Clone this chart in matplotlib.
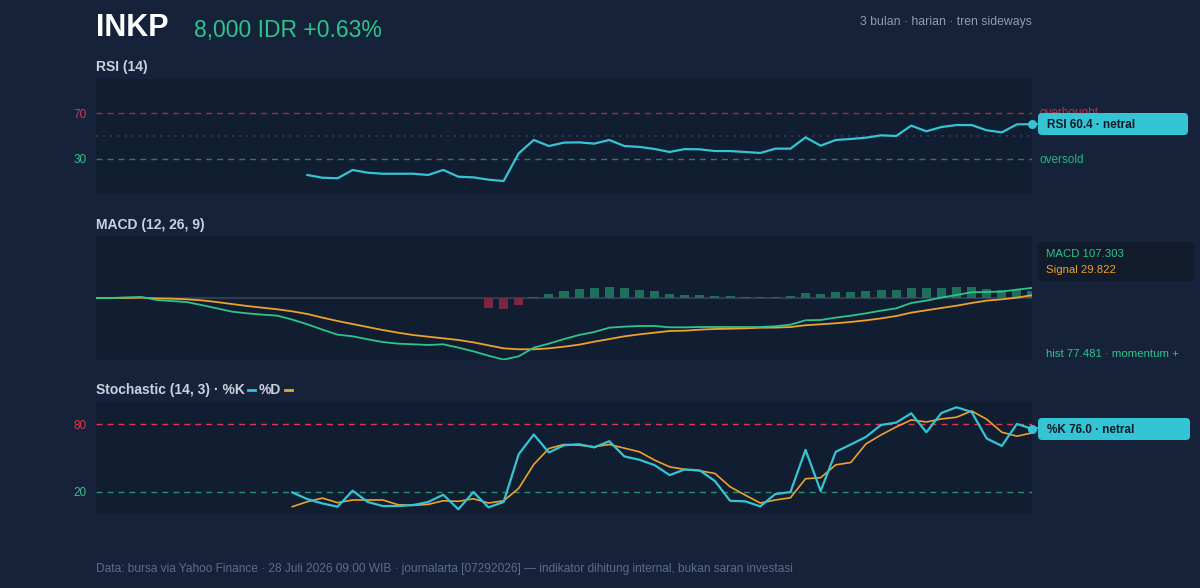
import numpy as np
import matplotlib
matplotlib.use('Agg')
from matplotlib import pyplot as plt
from matplotlib.patches import FancyBboxPatch
from matplotlib.lines import Line2D

# ---- data (63 daily bars) ----
N_BARS = 63

rsi_start = 14
rsi_vals = [15.8, 13.4, 12.9, 20.2, 17.8, 16.9, 16.9, 16.9, 15.8, 20.2,
            14.3, 13.7, 11.7, 10.5, 34.8, 46.5, 41.2, 44.2, 44.4, 43.3,
            46.5, 41.2, 40.4, 38.6, 36.0, 38.5, 38.3, 36.8, 36.8, 36.0,
            35.1, 38.9, 38.9, 48.8, 41.5, 46.5, 47.4, 48.5, 50.6, 50.0,
            59.1, 54.1, 57.9, 59.6, 59.6, 55.0, 53.2, 60.2, 60.4]

macd_vals = [0, 0, 7, 11, -21, -32, -43, -75, -110, -145,
             -163, -177, -188, -230, -280, -337, -390, -408, -440, -469,
             -486, -493, -500, -493, -528, -568, -614, -656, -621, -528,
             -486, -437, -394, -362, -316, -305, -298, -298, -312, -312,
             -309, -309, -309, -309, -309, -301, -284, -237, -234, -209,
             -188, -163, -135, -110, -53, -28, 4, 32, 61, 64,
             68, 89, 107.303]
signal_vals = [0, 0, 0, 4, -4, -7, -14, -25, -43, -64,
               -85, -103, -120, -142, -170, -209, -245, -277, -309, -341,
               -369, -394, -412, -429, -447, -472, -504, -536, -546, -546,
               -536, -518, -497, -465, -437, -408, -387, -369, -351, -348,
               -337, -330, -327, -323, -316, -315, -309, -290, -280, -269,
               -255, -238, -217, -192, -156, -131, -106, -82, -53, -28,
               -14, 4, 29.822]
hist_start = 26
hist_vals = [-110, -120, -75, 10, 43, 75, 99, 103, 121, 103,
             89, 71, 39, 36, 28, 21, 18, 14, 7, 14,
             25, 53, 46, 60, 67, 75, 82, 82, 103, 103,
             110, 114, 114, 92, 82, 85, 77.481]

stoch_start = 13
stoch_k = [19.3, 13.3, 9.4, 6.5, 20.8, 10.7, 7.1, 7.1, 8.0, 10.7,
           17.2, 4.2, 19.6, 5.9, 10.7, 53.4, 71.0, 54.9, 61.4, 62.3,
           59.5, 65.0, 51.4, 48.4, 43.6, 34.7, 39.8, 38.9, 29.4, 11.8,
           11.3, 6.8, 17.8, 19.6, 57.3, 20.5, 55.5, 62.1, 68.8, 79.5,
           81.6, 89.9, 73.0, 90.2, 95.3, 91.1, 67.4, 60.8, 80.4, 76.0]
stoch_d = [6.5, 11.0, 14.2, 10.1, 12.5, 12.5, 12.5, 8.3, 7.7, 8.6,
           11.8, 11.3, 13.6, 9.8, 11.8, 22.9, 44.3, 58.5, 62.1, 61.4,
           60.0, 62.1, 58.8, 55.5, 48.1, 42.1, 39.8, 38.6, 36.2, 24.3,
           16.9, 9.8, 12.5, 14.5, 31.5, 32.4, 43.9, 46.0, 62.6, 70.6,
           77.7, 84.0, 82.2, 84.9, 86.4, 92.0, 84.6, 73.0, 69.5, 72.4]

# ---- style ----
W, H = 1200, 588
BG = '#15223a'
PANEL = '#111d30'
CYAN = '#35c4d4'
GREEN = '#2ec48c'
ORANGE = '#eea22e'
RED = '#e0364f'
TXT = '#c9d1dd'
MUTED = '#8f9bb0'
FOOT = '#5d6d86'

plt.rcParams['font.family'] = ['Liberation Sans', 'DejaVu Sans']


def fpos(x, y):
    # pixel coords (top-left origin) -> figure fraction
    return x / W, 1 - y / H


def add_axes(top, bottom):
    ax = fig.add_axes([96 / W, 1 - bottom / H, (1032 - 96) / W, (bottom - top) / H])
    ax.set_facecolor(PANEL)
    for s in ax.spines.values():
        s.set_visible(False)
    ax.set_xlim(0, N_BARS - 1)
    ax.set_xticks([])
    ax.tick_params(axis='y', length=0, pad=7, labelsize=8.5)
    return ax


def pill(x0, y0, x1, y1, fc, ec='none', r=4):
    p = FancyBboxPatch((x0 / 100, (H - y1) / 100), (x1 - x0) / 100, (y1 - y0) / 100,
                       boxstyle='round,pad=0,rounding_size=%f' % (r / 100),
                       transform=fig.dpi_scale_trans, fc=fc, ec=ec, zorder=5)
    fig.patches.append(p)


def pad_series(vals, start):
    arr = np.full(N_BARS, np.nan)
    arr[start:start + len(vals)] = vals
    return arr


fig = plt.figure(figsize=(W / 100, H / 100), dpi=100, facecolor=BG)
x = np.arange(N_BARS)

# header
fig.text(*fpos(96, 28), 'INKP', color='white', fontsize=22, fontweight='bold', va='center')
fig.text(*fpos(194, 30), '8,000 IDR +0.63%', color=GREEN, fontsize=16.5, va='center')
fig.text(*fpos(1032, 22), '3 bulan \u00b7 harian \u00b7 tren sideways', color=MUTED,
         fontsize=8.8, ha='right', va='center')

# ---- RSI ----
ax1 = add_axes(79, 193)
rsi = pad_series(rsi_vals, rsi_start)
ax1.set_ylim(0, 100)
ax1.axhline(70, color=RED, alpha=0.7, lw=1, dashes=(4.3, 3.6))
ax1.axhline(30, color=GREEN, alpha=0.6, lw=1, dashes=(4.3, 3.6))
ax1.axhline(50, color='#3a4658', lw=1.2, dashes=(1, 3.3))
ax1.plot(x, rsi, color=CYAN, lw=1.6)
ax1.plot(x[-1], rsi[-1], 'o', color=CYAN, ms=5.5, clip_on=False, zorder=6)
ax1.set_yticks([30, 70])
ax1.set_yticklabels(['30', '70'])
for lab, c in zip(ax1.get_yticklabels(), [GREEN, RED]):
    lab.set_color(c)
fig.text(*fpos(96, 67), 'RSI (14)', color=TXT, fontsize=10, fontweight='bold', va='center')
fig.text(*fpos(1040, 113), 'overbought', color=RED, fontsize=8.5, va='center', alpha=0.8)
fig.text(*fpos(1040, 160), 'oversold', color=GREEN, fontsize=8.5, va='center', alpha=0.9)
fig.lines.append(Line2D([1032 / W, 1038 / W], [1 - 124 / H] * 2, color=CYAN, lw=1.2,
                        transform=fig.transFigure))
pill(1038, 113, 1188, 135, CYAN)
fig.text(*fpos(1047, 125), 'RSI 60.4 \u00b7 netral', color='#0e1a2a', fontsize=8.5,
         fontweight='bold', va='center', zorder=6)

# ---- MACD ----
ax2 = add_axes(236, 360)
ax2.set_ylim(-660, 660)
ax2.set_yticks([])
hist = pad_series(hist_vals, hist_start)
bar_cols = ['#1f6e5a' if v >= 0 else '#7a2743' for v in np.nan_to_num(hist)]
ax2.bar(x, hist, width=0.6, color=bar_cols, zorder=2)
ax2.axhline(0, color='#2f3b4f', lw=1.5, zorder=1)
ax2.plot(x, signal_vals, color=ORANGE, lw=1.3, zorder=3)
ax2.plot(x, macd_vals, color=GREEN, lw=1.3, zorder=4)
fig.text(*fpos(96, 225), 'MACD (12, 26, 9)', color=TXT, fontsize=10, fontweight='bold', va='center')
pill(1038, 242, 1194, 281, '#111b2b')
fig.text(*fpos(1046, 254), 'MACD 107.303', color=GREEN, fontsize=8.2, va='center', zorder=6)
fig.text(*fpos(1046, 270), 'Signal 29.822', color=ORANGE, fontsize=8.2, va='center', zorder=6)
fig.text(*fpos(1046, 354), 'hist 77.481 \u00b7 momentum +', color=GREEN, fontsize=8.2, va='center')

# ---- Stochastic ----
ax3 = add_axes(402, 514)
ax3.set_ylim(0, 100)
ax3.axhline(80, color=RED, lw=1, dashes=(4.3, 3.6))
ax3.axhline(20, color=GREEN, alpha=0.7, lw=1, dashes=(4.3, 3.6))
k = pad_series(stoch_k, stoch_start)
d = pad_series(stoch_d, stoch_start)
ax3.plot(x, d, color=ORANGE, lw=1.2)
ax3.plot(x, k, color=CYAN, lw=1.6)
ax3.plot(x[-1], k[-1], 'o', color=CYAN, ms=5.5, clip_on=False, zorder=6)
ax3.set_yticks([20, 80])
ax3.set_yticklabels(['20', '80'])
for lab, c in zip(ax3.get_yticklabels(), [GREEN, RED]):
    lab.set_color(c)

# title with coloured legend dashes
renderer = fig.canvas.get_renderer()
t = fig.text(*fpos(96, 390), 'Stochastic (14, 3) \u00b7 %K', color=TXT, fontsize=10,
             fontweight='bold', va='center')
xe = t.get_window_extent(renderer).x1
fig.lines.append(Line2D([(xe + 3) / W, (xe + 10) / W], [1 - 390 / H] * 2, color=CYAN,
                        lw=2, transform=fig.transFigure))
t2 = fig.text((xe + 14) / W, 1 - 390 / H, '%D', color=TXT, fontsize=10,
              fontweight='bold', va='center')
xe2 = t2.get_window_extent(renderer).x1
fig.lines.append(Line2D([(xe2 + 4) / W, (xe2 + 11) / W], [1 - 390 / H] * 2, color=ORANGE,
                        lw=2, transform=fig.transFigure))

fig.lines.append(Line2D([1032 / W, 1038 / W], [1 - 428 / H] * 2, color=CYAN, lw=1.2,
                        transform=fig.transFigure))
pill(1038, 418, 1190, 440, CYAN)
fig.text(*fpos(1047, 430), '%K 76.0 \u00b7 netral', color='#0e1a2a', fontsize=8.5,
         fontweight='bold', va='center', zorder=6)

# footer
fig.text(*fpos(96, 569), 'Data: bursa via Yahoo Finance \u00b7 28 Juli 2026 09:00 WIB \u00b7 '
         'journalarta [07292026] \u2014 indikator dihitung internal, bukan saran investasi',
         color=FOOT, fontsize=8.6, va='center')

fig.savefig('out.png', dpi=100, facecolor=BG)
